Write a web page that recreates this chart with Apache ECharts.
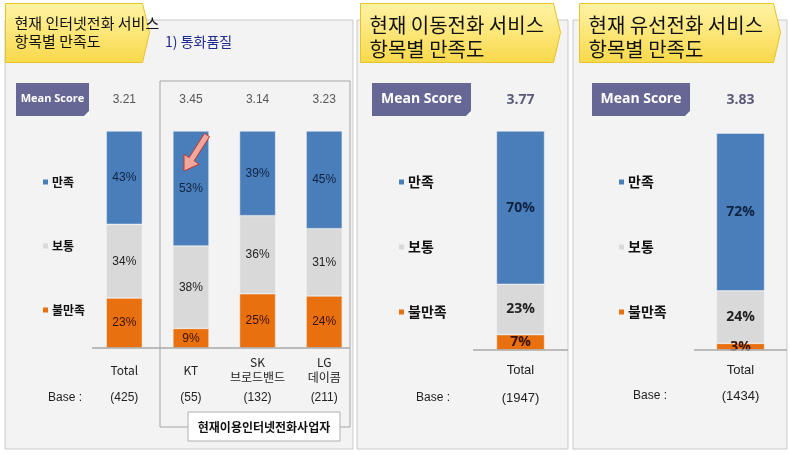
<!DOCTYPE html>
<html>
<head>
<meta charset="utf-8">
<script src="https://cdn.jsdelivr.net/npm/echarts@6/dist/echarts.min.js"></script>
<style>
  html, body { margin: 0; padding: 0; background: #fff; }
  #chart { width: 790px; height: 455px; }
</style>
</head>
<body>
<div id="chart"></div>
<script>
// 데이터 (단위: %)
var seriesNames = ['불만족', '보통', '만족'];
var legendNames = ['만족', '보통', '불만족'];

// 1) 인터넷전화 - 통화품질
var netCategories = ['Total', 'KT', 'SK\n브로드밴드', 'LG\n데이콤'];
var netBase = ['(425)', '(55)', '(132)', '(211)'];
var netMean = ['3.21', '3.45', '3.14', '3.23'];
var netBad = [23, 9, 25, 24];
var netSoso = [34, 38, 36, 31];
var netGood = [43, 53, 39, 45];

// 이동전화
var mobileCategories = ['Total'];
var mobileBase = ['(1947)'];
var mobileMean = ['3.77'];
var mobileBad = [7];
var mobileSoso = [23];
var mobileGood = [70];

// 유선전화
var wireCategories = ['Total'];
var wireBase = ['(1434)'];
var wireMean = ['3.83'];
var wireBad = [3];
var wireSoso = [24];
var wireGood = [72];

var colors = { '만족': '#4a7ebb', '보통': '#d9d9d9', '불만족': '#e8700e' };
var KR = '"Noto Sans CJK KR", sans-serif';
var LAT = '"Liberation Sans", Arial, sans-serif';

var chart = echarts.init(document.getElementById('chart'));

function axesFor(grid, cats, base, mean, catMargin, baseMargin, big) {
  return [
    {
      gridIndex: grid, type: 'category', position: 'bottom', data: cats,
      axisLine: { show: false }, axisTick: { show: false },
      axisLabel: { interval: 0, margin: catMargin, verticalAlign: 'middle', fontSize: big ? 13 : 12,
        fontFamily: big ? LAT : KR, color: '#222', lineHeight: 15 }
    },
    {
      gridIndex: grid, type: 'category', position: 'bottom', data: base,
      axisLine: { show: false }, axisTick: { show: false },
      axisLabel: { interval: 0, margin: baseMargin, verticalAlign: 'middle', fontSize: big ? 13 : 12,
        fontFamily: LAT, color: '#222' }
    },
    {
      gridIndex: grid, type: 'category', position: 'top', data: mean,
      axisLine: { show: false }, axisTick: { show: false },
      axisLabel: { interval: 0, margin: 31, verticalAlign: 'middle', fontSize: big ? 14 : 12,
        fontWeight: big ? 'bold' : 'normal', fontFamily: big ? '"Open Sans", sans-serif' : LAT,
        color: big ? '#5a5a78' : '#555' }
    }
  ];
}

function seriesFor(grid, xIdx, bad, soso, good, width, big) {
  var vals = { '불만족': bad, '보통': soso, '만족': good };
  return seriesNames.map(function (name) {
    return {
      name: name, type: 'bar', stack: 'g' + grid,
      xAxisIndex: xIdx, yAxisIndex: grid,
      barWidth: width, data: vals[name],
      itemStyle: { color: colors[name], borderColor: '#f3f3f3', borderWidth: 0.5 },
      label: {
        show: true, position: 'inside', formatter: '{c}%',
        fontSize: big ? 14 : 12, fontWeight: big ? 'bold' : 'normal',
        fontFamily: big ? '"Open Sans", sans-serif' : LAT,
        color: name === '만족' ? '#0f2340' : (name === '불만족' ? '#3a1000' : '#222')
      }
    };
  });
}

function legendFor(left, big) {
  return {
    data: legendNames, orient: 'vertical', left: left, top: 169,
    icon: 'rect', itemWidth: 7, itemHeight: 7, itemGap: big ? 49 : 48,
    selectedMode: false,
    textStyle: { fontFamily: KR, fontSize: big ? 14 : 12, fontWeight: 'bold',
      color: '#111', lineHeight: 16, padding: [0, 0, 0, -2] }
  };
}

function header(x, w, text, size, top) {
  return {
    type: 'group', left: x, top: 3, children: [
      {
        type: 'polygon',
        shape: { points: [[0, 0], [w - 7, 0], [w, 29], [w - 7, 59], [0, 59]] },
        style: {
          fill: new echarts.graphic.LinearGradient(0, 0, 0, 1, [
            { offset: 0, color: '#fff3a6' }, { offset: 1, color: '#f8d94a' }]),
          stroke: '#e6c22c', lineWidth: 1
        }
      },
      {
        type: 'text', x: 9, y: top,
        style: { text: text, font: size + 'px ' + KR, fill: '#111', lineHeight: Math.round(size * 1.2) }
      }
    ]
  };
}

function meanBox(x, w, size) {
  return {
    type: 'group', left: x, top: 83, children: [
      { type: 'rect', shape: { x: 0, y: 0, width: w, height: 33 }, style: { fill: '#676796' } },
      { type: 'polygon', shape: { points: [[w - 5, 33], [w, 28], [w, 33]] }, style: { fill: '#fff' } },
      {
        type: 'text', x: w / 2, y: 16,
        style: { text: 'Mean Score', font: 'bold ' + size + 'px "Open Sans", sans-serif',
          fill: '#fff', align: 'center', verticalAlign: 'middle' }
      }
    ]
  };
}

function panel(x, w) {
  return {
    type: 'rect', z: -10,
    shape: { x: x, y: 20, width: w, height: 429 },
    style: { fill: '#f3f3f3', stroke: '#c9c9c9', lineWidth: 1 }
  };
}

function hline(x1, x2, y) {
  return {
    type: 'line', z: 5,
    shape: { x1: x1, y1: y, x2: x2, y2: y },
    style: { stroke: '#a8a8a8', lineWidth: 1.5 }
  };
}

function baseText(x, y) {
  return {
    type: 'text', x: x, y: y,
    style: { text: 'Base :', font: '12px ' + LAT, fill: '#222', verticalAlign: 'middle' }
  };
}

var xAxes = []
  .concat(axesFor(0, netCategories, netBase, netMean, 22, 50, false))
  .concat(axesFor(1, mobileCategories, mobileBase, mobileMean, 20, 48, true))
  .concat(axesFor(2, wireCategories, wireBase, wireMean, 20, 46, true));

var series = []
  .concat(seriesFor(0, 0, netBad, netSoso, netGood, 36, false))
  .concat(seriesFor(1, 3, mobileBad, mobileSoso, mobileGood, 48, true))
  .concat(seriesFor(2, 6, wireBad, wireSoso, wireGood, 48, true));

chart.setOption({
  backgroundColor: '#fff',
  animation: false,
  grid: [
    { left: 91, top: 131, width: 266.5, height: 217 },
    { left: 473, top: 131, width: 95, height: 219 },
    { left: 694, top: 131, width: 93, height: 219 }
  ],
  xAxis: xAxes,
  yAxis: [0, 1, 2].map(function (g) {
    return { gridIndex: g, type: 'value', min: 0, max: 100, show: false };
  }),
  legend: [legendFor(36, false), legendFor(392, true), legendFor(612, true)],
  series: series,
  graphic: [
    panel(5, 348), panel(357, 211), panel(573, 214),
    // 사업자 묶음 박스
    { type: 'rect', z: -5, shape: { x: 160, y: 81, width: 190, height: 346 },
      style: { fill: 'none', stroke: '#a6a6a6', lineWidth: 1 } },
    { type: 'rect', z: 6, shape: { x: 188, y: 412, width: 152, height: 29 },
      style: { fill: '#fff', stroke: '#b0b0b0', lineWidth: 1 } },
    { type: 'text', z: 7, x: 264, y: 427,
      style: { text: '현재이용인터넷전화사업자', font: 'bold 12px ' + KR, fill: '#111',
        align: 'center', verticalAlign: 'middle' } },
    hline(92, 350, 348), hline(473, 568, 350), hline(694, 787, 350),
    baseText(48, 398), baseText(416, 398), baseText(633, 396),
    header(5, 144, '현재 인터넷전화 서비스\n항목별 만족도', 15, 11),
    header(360, 200, '현재 이동전화 서비스\n항목별 만족도', 20, 10),
    header(579, 201, '현재 유선전화 서비스\n항목별 만족도', 20, 10),
    { type: 'text', x: 165, y: 42,
      style: { text: '1) 통화품질', font: '14px ' + KR, fill: '#1f2a8f', verticalAlign: 'middle' } },
    meanBox(16, 73, 11), meanBox(372, 99, 14), meanBox(592, 98, 14),
    // KT 강조 화살표
    { type: 'polygon', z: 10,
      shape: { points: [[209.5, 136.6], [194.1, 160.8], [199.1, 164.1], [184, 171],
        [184.0, 154.3], [189.1, 157.6], [204.5, 133.4]] },
      style: { fill: '#f2a79c', stroke: '#c0392b', lineWidth: 1 } }
  ]
});
</script>
</body>
</html>
